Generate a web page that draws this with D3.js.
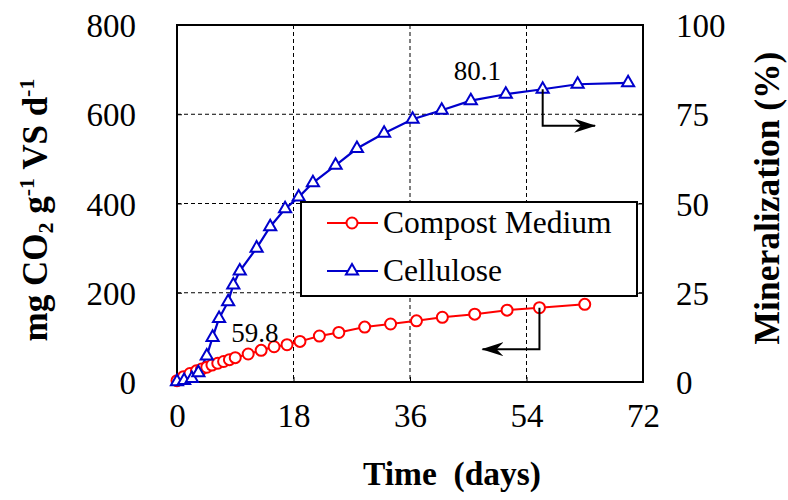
<!DOCTYPE html>
<html><head><meta charset="utf-8">
<script src="https://cdn.jsdelivr.net/npm/d3@7"></script>
<style>
html,body{margin:0;padding:0;background:#fff;}
svg text{font-family:"Liberation Serif","Times New Roman",serif;fill:#000;}
</style></head>
<body><svg id="c" width="788" height="500"></svg>
<script>
// ---- data ----
const compostDays = [0,1,2,3,3.8,4.6,5.4,6.3,7.2,8.1,9,11,13,15,17,19,22,25,29,33,37,41,46,51,56,63];
const compostCO2  = [3,12,19,25,29,33,38,42,46,50,54.5,62.7,71,79,83.6,91,103,111,123,130,137,145,152,161,166.5,174];
const celluloseDays = [0,1.1,2.3,3.3,4.6,5.5,6.5,7.9,8.7,9.7,12.3,14.4,16.7,18.8,21,24.5,27.8,32,36.4,40.9,45.4,50.8,56.5,61.9,69.7];
const cellulosePct  = [0.1,0.4,1.0,2.6,7.3,12.5,17.8,22.5,27.2,31.1,37.5,43.5,48.5,51.8,55.8,60.7,65.4,69.7,73.6,76.1,78.8,80.6,82.0,83.4,83.8];
const xTicks = [0,18,36,54,72];
const yLeftTicks = [0,200,400,600,800];
const yRightTicks = [0,25,50,75,100];
const seriesNames = ["Compost Medium","Cellulose"];
const annotations = [{text:"80.1", day:46.4, pct:84.6},{text:"59.8", day:12.05, co2:89.6}];

// ---- layout ----
const FONT = "Liberation Serif";
const svg = d3.select("#c");
const L=177, R=643, T=25, B=382;
const x = d3.scaleLinear().domain([0,72]).range([L,R]);
const yL = d3.scaleLinear().domain([0,800]).range([B,T]);
const yR = d3.scaleLinear().domain([0,100]).range([B,T]);
const RED="#ff0000", BLUE="#0000cc";

// grid
const g = svg.append("g");
g.selectAll(".gx").data(xTicks.slice(1,-1)).enter().append("line")
  .attr("x1",d=>x(d)).attr("x2",d=>x(d)).attr("y1",T).attr("y2",B)
  .attr("stroke","#000").attr("stroke-width",1).attr("stroke-dasharray","4,3");
g.selectAll(".gy").data(yLeftTicks.slice(1,-1)).enter().append("line")
  .attr("y1",d=>yL(d)).attr("y2",d=>yL(d)).attr("x1",L).attr("x2",R)
  .attr("stroke","#000").attr("stroke-width",1).attr("stroke-dasharray","4,3");

// axes
const axB = d3.axisBottom(x).tickValues(xTicks).tickSizeInner(-5).tickSizeOuter(0).tickPadding(33);
const axL = d3.axisLeft(yL).tickValues(yLeftTicks).tickSizeInner(-5).tickSizeOuter(0).tickPadding(41);
const axR = d3.axisRight(yR).tickValues(yRightTicks).tickSizeInner(-5).tickSizeOuter(0).tickPadding(33);
function styleAx(sel){
  sel.attr("font-family",FONT);
  sel.select(".domain").remove();
  sel.selectAll(".tick line").attr("stroke","#000").attr("stroke-width",1);
  sel.selectAll(".tick text").attr("font-size",33).attr("font-family",FONT);
}
svg.append("g").attr("transform",`translate(0,${B})`).call(axB).call(styleAx);
svg.append("g").attr("transform",`translate(${L},0)`).call(axL).call(styleAx);
svg.append("g").attr("transform",`translate(${R},0)`).call(axR).call(styleAx);
svg.selectAll(".tick text").attr("dy","0.35em");

// frame
svg.append("rect").attr("x",L).attr("y",T).attr("width",R-L).attr("height",B-T)
  .attr("fill","none").attr("stroke","#000").attr("stroke-width",2);

// axis titles
svg.append("text").attr("x",452).attr("y",485).attr("text-anchor","middle").attr("font-family",FONT)
  .attr("font-size",33.5).attr("font-weight","bold").style("white-space","pre").text("Time  (days)");
const lt = svg.append("text").attr("transform","translate(47,210) rotate(-90)").attr("text-anchor","middle")
  .attr("font-size",35).attr("font-weight","bold").attr("font-family",FONT);
lt.append("tspan").text("mg CO");
lt.append("tspan").attr("font-size",22).attr("dy",6).text("2");
lt.append("tspan").attr("dy",-6).text(" g");
lt.append("tspan").attr("font-size",22).attr("dy",-13).text("-1");
lt.append("tspan").attr("dy",13).text(" VS d");
lt.append("tspan").attr("font-size",22).attr("dy",-13).text("-1");
svg.append("text").attr("transform","translate(779,198) rotate(-90)").attr("text-anchor","middle").attr("font-family",FONT)
  .attr("font-size",35.5).attr("font-weight","bold").text("Mineralization (%)");

// lines
const lineC = d3.line().x(d=>x(d[0])).y(d=>yL(d[1]));
const lineP = d3.line().x(d=>x(d[0])).y(d=>yR(d[1]));
const cData = compostDays.map((d,i)=>[d,compostCO2[i]]);
const pData = celluloseDays.map((d,i)=>[d,cellulosePct[i]]);
svg.append("path").attr("d",lineC(cData)).attr("fill","none").attr("stroke",RED).attr("stroke-width",2);
svg.append("path").attr("d",lineP(pData)).attr("fill","none").attr("stroke",BLUE).attr("stroke-width",2.2);
const tri = d3.symbol().type(d3.symbolTriangle).size(64);
svg.selectAll(".cm").data(cData).enter().append("circle")
  .attr("cx",d=>x(d[0])).attr("cy",d=>yL(d[1])).attr("r",5.5)
  .attr("fill","#fff").attr("stroke",RED).attr("stroke-width",2);
svg.selectAll(".pm").data(pData).enter().append("path").attr("d",tri)
  .attr("transform",d=>`translate(${x(d[0])},${yR(d[1])})`)
  .attr("fill","#fff").attr("stroke",BLUE).attr("stroke-width",2);

// annotations
svg.append("text").attr("x",x(annotations[0].day)).attr("y",yR(annotations[0].pct)).attr("text-anchor","middle")
  .attr("font-family",FONT).attr("font-size",27).text(annotations[0].text);
svg.append("text").attr("x",x(annotations[1].day)).attr("y",yL(annotations[1].co2)).attr("text-anchor","middle")
  .attr("font-family",FONT).attr("font-size",27).text(annotations[1].text);

// arrows
svg.append("defs").html('<marker id="ah" viewBox="0 0 22 14" refX="21" refY="7" markerWidth="22" markerHeight="14" markerUnits="userSpaceOnUse" orient="auto"><path d="M0,0 L22,7 L0,14 L7,7 Z" fill="#000"/></marker>');
const a1x = x(celluloseDays[22]), a1y = yR(cellulosePct[22]);
svg.append("path").attr("d",`M${a1x},${a1y} V${yR(71.8)} H${x(64.6)}`).attr("fill","none")
  .attr("stroke","#000").attr("stroke-width",2).attr("marker-end","url(#ah)");
const a2x = x(compostDays[24]), a2y = yL(compostCO2[24]);
svg.append("path").attr("d",`M${a2x},${a2y} V${yL(73.5)} H${x(47.2)}`).attr("fill","none")
  .attr("stroke","#000").attr("stroke-width",2).attr("marker-end","url(#ah)");

// legend
const lg = svg.append("g");
lg.append("rect").attr("x",301).attr("y",202).attr("width",336).attr("height",94)
  .attr("fill","#fff").attr("stroke","#000").attr("stroke-width",2);
const items = [{name:seriesNames[0],color:RED,sym:"c",y:223},{name:seriesNames[1],color:BLUE,sym:"t",y:271}];
items.forEach(it=>{
  lg.append("line").attr("x1",327).attr("x2",378).attr("y1",it.y).attr("y2",it.y).attr("stroke",it.color).attr("stroke-width",2);
  if(it.sym==="c") lg.append("circle").attr("cx",352).attr("cy",it.y).attr("r",5.5).attr("fill","#fff").attr("stroke",it.color).attr("stroke-width",2);
  else lg.append("path").attr("d",tri).attr("transform",`translate(352,${it.y})`).attr("fill","#fff").attr("stroke",it.color).attr("stroke-width",2);
  lg.append("text").attr("x",383).attr("y",it.y+10).attr("font-family",FONT).attr("font-size",31.5).text(it.name);
});
</script></body></html>
